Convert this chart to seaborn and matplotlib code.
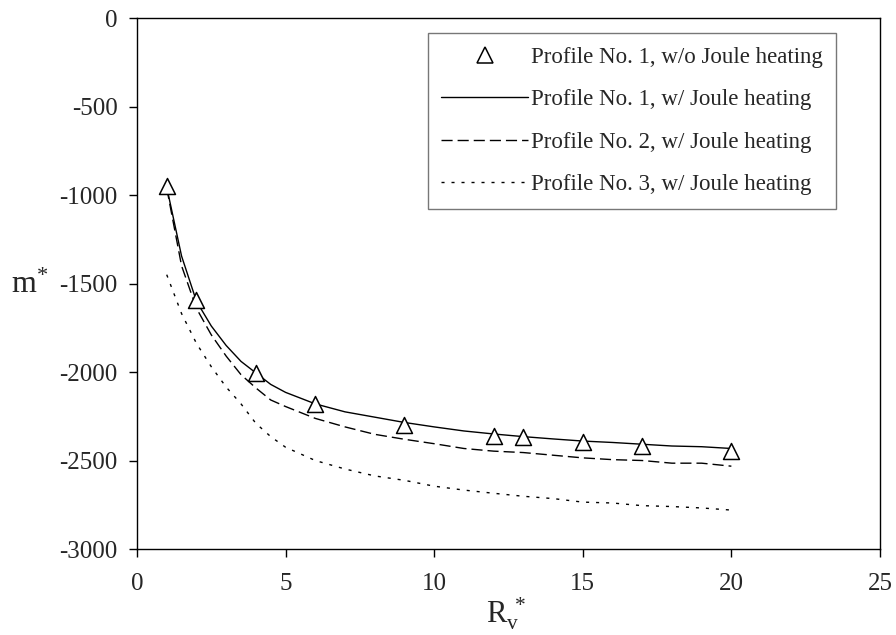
import matplotlib
matplotlib.use("Agg")
import matplotlib.pyplot as plt
from matplotlib.lines import Line2D
import seaborn as sns
import pandas as pd

# data
x_markers = [1, 2, 4, 6, 9, 12, 13, 15, 17, 20]
m_profile1_noJoule = [-950, -1595, -2005, -2180, -2300, -2362, -2367, -2396, -2418, -2446]

x_lines = [1, 1.5, 2, 2.5, 3, 3.5, 4, 4.5, 5, 6, 7, 8, 9, 10, 11, 12, 13, 14, 15, 16, 17, 18, 19, 20]
m_profile1_Joule = [-955, -1345, -1600, -1740, -1850, -1940, -2005, -2070, -2115, -2180,
                    -2225, -2255, -2285, -2310, -2333, -2350, -2365, -2378, -2390, -2398,
                    -2408, -2418, -2422, -2432]
m_profile2_Joule = [-960, -1400, -1640, -1790, -1910, -2015, -2090, -2158, -2195, -2262,
                    -2310, -2352, -2380, -2405, -2432, -2447, -2455, -2470, -2485, -2495,
                    -2500, -2515, -2515, -2532]
m_profile3_Joule = [-1450, -1670, -1838, -1970, -2085, -2180, -2290, -2365, -2425, -2500,
                    -2548, -2587, -2612, -2645, -2667, -2685, -2702, -2715, -2735, -2740,
                    -2755, -2760, -2768, -2780]

labels = ["Profile No. 1, w/o Joule heating",
          "Profile No. 1, w/ Joule heating",
          "Profile No. 2, w/ Joule heating",
          "Profile No. 3, w/ Joule heating"]

sns.set_style("white")
plt.rcParams["font.family"] = ["Liberation Serif", "DejaVu Serif"]
plt.rcParams["mathtext.fontset"] = "custom"
plt.rcParams["mathtext.rm"] = "Liberation Serif"
plt.rcParams["mathtext.it"] = "Liberation Serif:italic"
plt.rcParams["axes.unicode_minus"] = False

DASHED = (8, 3.6)
DOTTED = (2.2, 5)
LW = 1.0

fig = plt.figure(figsize=(8.96, 6.35), dpi=100)
ax = fig.add_axes([0.1529, 0.1354, 0.8292, 0.8362])

df1 = pd.DataFrame({"x": x_lines, "y": m_profile1_Joule})
df2 = pd.DataFrame({"x": x_lines, "y": m_profile2_Joule})
df3 = pd.DataFrame({"x": x_lines, "y": m_profile3_Joule})
dfm = pd.DataFrame({"x": x_markers, "y": m_profile1_noJoule})

sns.lineplot(data=df1, x="x", y="y", ax=ax, color="black", lw=LW)
sns.lineplot(data=df2, x="x", y="y", ax=ax, color="black", lw=LW)
ax.lines[-1].set_dashes(DASHED)
sns.lineplot(data=df3, x="x", y="y", ax=ax, color="black", lw=LW)
ax.lines[-1].set_dashes(DOTTED)
sns.scatterplot(data=dfm, x="x", y="y", ax=ax, marker="^", s=132,
                facecolor="white", edgecolor="black", linewidth=1.1, zorder=5)

ax.set_xlim(0, 25)
ax.set_ylim(-3000, 0)
ax.set_xticks([0, 5, 10, 15, 20, 25])
ax.set_yticks([-3000, -2500, -2000, -1500, -1000, -500, 0])
ax.tick_params(axis="both", labelsize=18, direction="out", length=6, width=1,
               bottom=True, left=True, color="black")
ax.tick_params(axis="x", pad=11)
ax.tick_params(axis="y", pad=8)
for s in ax.spines.values():
    s.set_color("black")
    s.set_linewidth(1.0)

ax.set_xlabel(r"$\mathregular{R_v^{\ *}}$", fontsize=22, va="center", ha="center")
ax.xaxis.set_label_coords(0.497, -0.122)
ax.set_ylabel(r"$\mathregular{m^{*}}$", fontsize=23, rotation=0, va="center", ha="center")
ax.yaxis.set_label_coords(-0.144, 0.497)

handles = [
    Line2D([], [], ls="none", marker="^", markersize=11.5, markerfacecolor="white",
           markeredgecolor="black", markeredgewidth=1.1),
    Line2D([], [], color="black", lw=LW),
    Line2D([], [], color="black", lw=LW, dashes=DASHED),
    Line2D([], [], color="black", lw=LW, dashes=DOTTED),
]
leg = ax.legend(handles, labels, loc="upper right", bbox_to_anchor=(0.941, 0.972),
                borderaxespad=0, fontsize=16.5, frameon=True, fancybox=False,
                edgecolor="#555555", handlelength=3.8, handletextpad=0.1,
                labelspacing=0.94, borderpad=0.6)
leg.get_frame().set_linewidth(1.0)

fig.savefig("out.png", dpi=100)
